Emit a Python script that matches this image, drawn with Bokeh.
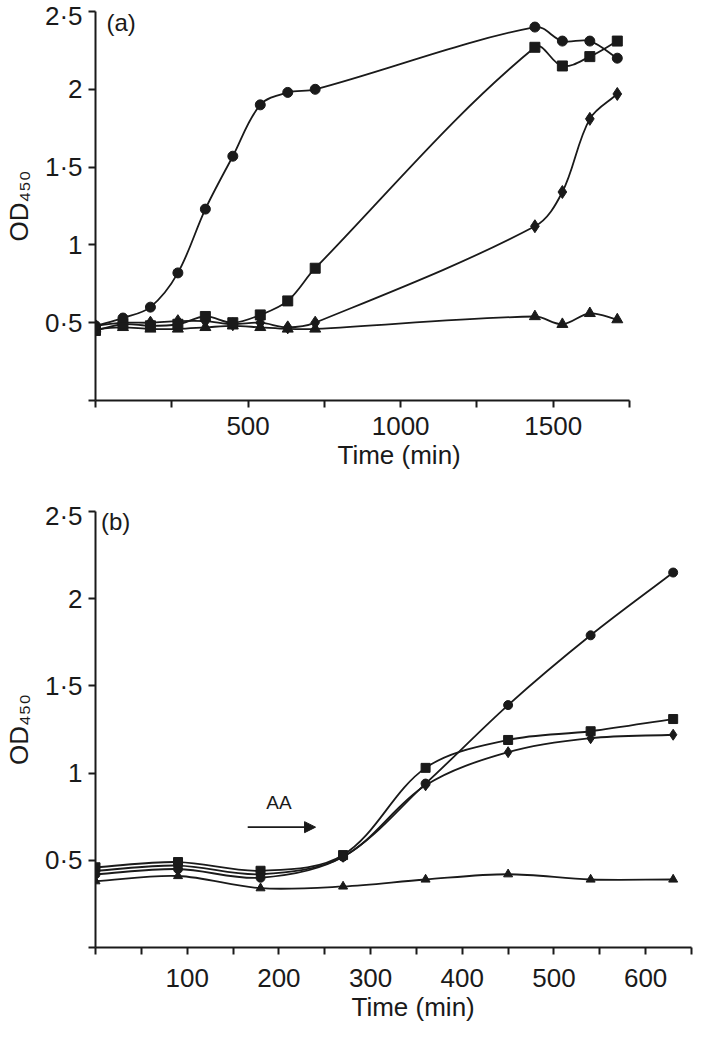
import numpy as np
from bokeh.plotting import figure
from bokeh.layouts import column
from bokeh.models import (Range1d, FixedTicker, CustomJSTickFormatter, Label,
                          Arrow, NormalHead, Title)
from bokeh.embed import file_html
from bokeh.resources import INLINE

# ---------------- data ----------------
# Panel (a)
time_a = [0, 90, 180, 270, 360, 450, 540, 630, 720, 1440, 1530, 1620, 1710]
circle_a = [0.48, 0.53, 0.60, 0.82, 1.23, 1.57, 1.90, 1.98, 2.00, 2.40, 2.31, 2.31, 2.20]
square_a = [0.45, 0.49, 0.48, 0.49, 0.54, 0.50, 0.55, 0.64, 0.85, 2.27, 2.15, 2.21, 2.31]
diamond_a = [0.48, 0.50, 0.50, 0.51, 0.51, 0.49, 0.50, 0.47, 0.50, 1.12, 1.34, 1.81, 1.97]
triangle_a = [0.46, 0.47, 0.46, 0.46, 0.47, 0.48, 0.47, 0.46, 0.46, 0.54, 0.49, 0.56, 0.52]

# Panel (b)
time_b = [0, 90, 180, 270, 360, 450, 540, 630]
circle_b = [0.42, 0.45, 0.40, 0.52, 0.94, 1.39, 1.79, 2.15]
square_b = [0.46, 0.49, 0.44, 0.53, 1.03, 1.19, 1.24, 1.31]
diamond_b = [0.44, 0.47, 0.42, 0.52, 0.93, 1.12, 1.20, 1.22]
triangle_b = [0.38, 0.41, 0.34, 0.35, 0.39, 0.42, 0.39, 0.39]

y_ticks = [0.5, 1, 1.5, 2, 2.5]
x_ticks_a = [500, 1000, 1500]
x_ticks_b = [100, 200, 300, 400, 500, 600]

FONT = "Liberation Sans"
INK = "#1a1a1a"


def smooth(xs, ys, kx, ky):
    """Bezier control points (smoothed line through the data points)."""
    P = np.column_stack([np.asarray(xs, float) * kx, np.asarray(ys, float) * ky])
    n = len(P)
    T = np.zeros_like(P)
    for i in range(n):
        d = P[min(i + 1, n - 1)] - P[max(i - 1, 0)]
        L = np.hypot(*d)
        T[i] = d / L if L > 0 else d
    out = {k: [] for k in ("x0", "y0", "x1", "y1", "cx0", "cy0", "cx1", "cy1")}
    for i in range(n - 1):
        seg = np.hypot(*(P[i + 1] - P[i]))
        c0 = P[i] + T[i] * seg / 3.0
        c1 = P[i + 1] - T[i + 1] * seg / 3.0
        out["x0"].append(P[i][0] / kx); out["y0"].append(P[i][1] / ky)
        out["x1"].append(P[i + 1][0] / kx); out["y1"].append(P[i + 1][1] / ky)
        out["cx0"].append(c0[0] / kx); out["cy0"].append(c0[1] / ky)
        out["cx1"].append(c1[0] / kx); out["cy1"].append(c1[1] / ky)
    return out


def make_fig(fw, fh, xmax, xticks, xminor, left, top, bottom, right, font_px):
    p = figure(frame_width=fw, frame_height=fh,
               x_range=Range1d(0, xmax), y_range=Range1d(0, 2.5),
               output_backend="svg", toolbar_location=None,
               min_border_left=left, min_border_top=top,
               min_border_bottom=bottom, min_border_right=right)
    p.grid.visible = False
    p.outline_line_color = None
    p.background_fill_color = "white"
    p.border_fill_color = "white"

    for ax in (p.xaxis[0], p.yaxis[0]):
        ax.axis_line_color = INK
        ax.axis_line_width = 2
        ax.major_tick_line_color = INK
        ax.major_tick_line_width = 2
        ax.minor_tick_line_color = INK
        ax.minor_tick_line_width = 2
        ax.major_tick_in = 0
        ax.major_tick_out = 7
        ax.minor_tick_in = 0
        ax.minor_tick_out = 7
        ax.major_label_text_font = FONT
        ax.major_label_text_font_size = font_px
        ax.major_label_text_color = INK
        ax.axis_label_text_font = FONT
        ax.axis_label_text_font_size = font_px
        ax.axis_label_text_font_style = "normal"
        ax.axis_label_text_color = INK

    p.xaxis.ticker = FixedTicker(ticks=xticks, minor_ticks=xminor)
    p.yaxis.ticker = FixedTicker(ticks=y_ticks, minor_ticks=[0])
    p.yaxis.formatter = CustomJSTickFormatter(
        code="return String(tick).replace('.', '\u00b7');")
    p.yaxis.major_label_standoff = 6
    p.yaxis.axis_label = "OD\u2084\u2085\u2080"
    p.yaxis.axis_label_standoff = 8
    return p


def draw(p, xs, ys, marker, size, kx, ky):
    b = smooth(xs, ys, kx, ky)
    p.bezier(x0=b["x0"], y0=b["y0"], x1=b["x1"], y1=b["y1"],
             cx0=b["cx0"], cy0=b["cy0"], cx1=b["cx1"], cy1=b["cy1"],
             line_color=INK, line_width=1.8)
    p.scatter(xs, ys, marker=marker, size=size, fill_color=INK, line_color=INK)


# ---------------- panel (a) ----------------
FW_A, FH_A, XMAX_A = 534, 389, 1750
pa = make_fig(FW_A, FH_A, XMAX_A, x_ticks_a, [0, 250, 750, 1250, 1750],
              left=88, top=11, bottom=100, right=75, font_px="26px")
pa.xaxis.major_label_standoff = 9
kxa, kya = FW_A / XMAX_A, FH_A / 2.5
draw(pa, time_a, triangle_a, "triangle", 11, kxa, kya)
draw(pa, time_a, diamond_a, "diamond", 13, kxa, kya)
draw(pa, time_a, square_a, "square", 10, kxa, kya)
draw(pa, time_a, circle_a, "circle", 10, kxa, kya)
pa.add_layout(Label(x=36, y=2.43, text="(a)", text_baseline="middle",
                    text_font=FONT, text_font_size="24px", text_color=INK))
pa.add_layout(Title(text="Time (min)", align="left", offset=242,
                    text_font=FONT, text_font_size="26px",
                    text_font_style="normal", text_color=INK, standoff=0),
              "below")

# ---------------- panel (b) ----------------
FW_B, FH_B, XMAX_B = 596, 436, 650
pb = make_fig(FW_B, FH_B, XMAX_B, x_ticks_b,
              [0, 50, 150, 250, 350, 450, 550, 650],
              left=93, top=11, bottom=87, right=8, font_px="26px")
pb.xaxis.major_label_standoff = 14
kxb, kyb = FW_B / XMAX_B, FH_B / 2.5
draw(pb, time_b, triangle_b, "triangle", 9, kxb, kyb)
draw(pb, time_b, diamond_b, "diamond", 11, kxb, kyb)
draw(pb, time_b, square_b, "square", 9, kxb, kyb)
draw(pb, time_b, circle_b, "circle", 9, kxb, kyb)
pb.add_layout(Label(x=6, y=2.44, text="(b)", text_baseline="middle",
                    text_font=FONT, text_font_size="24px", text_color=INK))
pb.add_layout(Label(x=200, y=0.83, text="AA", text_align="center",
                    text_baseline="middle", text_font=FONT,
                    text_font_size="19px", text_color=INK))
pb.add_layout(Arrow(end=NormalHead(size=11, fill_color=INK, line_color=INK),
                    x_start=166, y_start=0.69, x_end=240, y_end=0.69,
                    line_color=INK, line_width=1.8))
pb.add_layout(Title(text="Time (min)", align="left", offset=256,
                    text_font=FONT, text_font_size="26px",
                    text_font_style="normal", text_color=INK, standoff=0),
              "below")

layout = column(pa, pb, spacing=0)
open("out.html", "w").write(file_html(layout, INLINE))
